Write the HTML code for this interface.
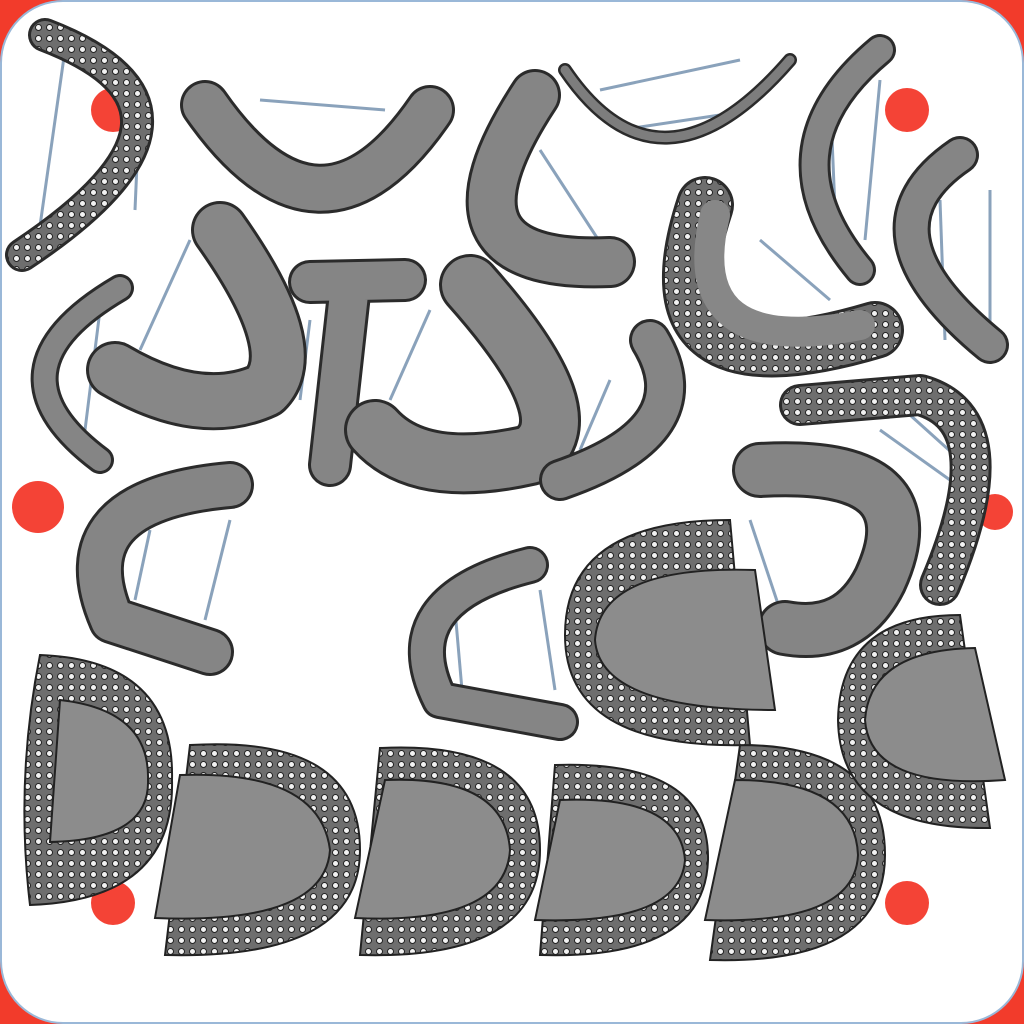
<!DOCTYPE html>
<html><head><meta charset="utf-8"><style>
html,body{margin:0;padding:0;background:#fff;width:1024px;height:1024px;overflow:hidden}
</style></head><body>
<svg width="1024" height="1024" viewBox="0 0 1024 1024">
<defs>
<pattern id="holes" width="11" height="11" patternUnits="userSpaceOnUse">
<rect width="11" height="11" fill="#6e6e6e"/>
<circle cx="5.5" cy="5.5" r="3" fill="#f2f2f2" stroke="#222" stroke-width="1"/>
</pattern>
</defs>
<rect width="1024" height="1024" fill="#f23b2b"/>
<rect x="1" y="1" width="1022" height="1022" rx="62" fill="#fff" stroke="#9ab8d8" stroke-width="2"/>
<g fill="#f44336">
<circle cx="113" cy="110" r="22"/><circle cx="907" cy="110" r="22"/>
<circle cx="38" cy="507" r="26"/><circle cx="113" cy="903" r="22"/>
<circle cx="907" cy="903" r="22"/><circle cx="995" cy="512" r="18"/>
</g>
<g stroke="#8aa2bb" stroke-width="3">
<line x1="65" y1="50" x2="38" y2="240"/><line x1="140" y1="95" x2="135" y2="210"/>
<line x1="260" y1="100" x2="385" y2="110"/><line x1="320" y1="170" x2="380" y2="150"/>
<line x1="540" y1="150" x2="605" y2="250"/><line x1="600" y1="90" x2="740" y2="60"/>
<line x1="620" y1="130" x2="720" y2="115"/><line x1="830" y1="90" x2="835" y2="210"/>
<line x1="880" y1="80" x2="865" y2="240"/><line x1="940" y1="200" x2="945" y2="340"/>
<line x1="990" y1="190" x2="990" y2="330"/><line x1="760" y1="240" x2="830" y2="300"/>
<line x1="100" y1="310" x2="85" y2="430"/><line x1="190" y1="240" x2="140" y2="350"/>
<line x1="310" y1="320" x2="300" y2="400"/><line x1="360" y1="320" x2="345" y2="400"/>
<line x1="430" y1="310" x2="390" y2="400"/><line x1="610" y1="380" x2="580" y2="450"/>
<line x1="880" y1="430" x2="950" y2="480"/><line x1="910" y1="415" x2="960" y2="460"/>
<line x1="750" y1="520" x2="780" y2="610"/><line x1="150" y1="530" x2="135" y2="600"/>
<line x1="230" y1="520" x2="205" y2="620"/><line x1="455" y1="610" x2="462" y2="690"/>
<line x1="540" y1="590" x2="555" y2="690"/>
</g>
<g fill="none" stroke-linecap="round" stroke-linejoin="round">
<g stroke="#2b2b2b" stroke-width="0">
</g>
<g id="arcs">
<path d="M45,35 Q240,110 22,255" stroke="#2b2b2b" stroke-width="34"/>
<path d="M45,35 Q240,110 22,255" stroke="url(#holes)" stroke-width="28"/>
<path d="M205,105 Q320,270 430,110" stroke="#2b2b2b" stroke-width="50"/>
<path d="M205,105 Q320,270 430,110" stroke="#858585" stroke-width="44"/>
<path d="M535,95 Q420,270 610,262" stroke="#2b2b2b" stroke-width="52"/>
<path d="M535,95 Q420,270 610,262" stroke="#858585" stroke-width="46"/>
<path d="M565,70 Q660,210 790,60" stroke="#2b2b2b" stroke-width="14"/>
<path d="M565,70 Q660,210 790,60" stroke="#7d7d7d" stroke-width="9"/>
<path d="M880,50 Q760,150 860,270" stroke="#2b2b2b" stroke-width="32"/>
<path d="M880,50 Q760,150 860,270" stroke="#858585" stroke-width="26"/>
<path d="M960,155 Q850,230 990,345" stroke="#2b2b2b" stroke-width="38"/>
<path d="M960,155 Q850,230 990,345" stroke="#858585" stroke-width="32"/>
<path d="M705,205 Q640,400 875,330" stroke="#2b2b2b" stroke-width="58"/>
<path d="M705,205 Q640,400 875,330" stroke="url(#holes)" stroke-width="52"/>
<path d="M715,215 Q680,360 860,325" stroke="#878787" stroke-width="30"/>
<path d="M120,288 Q-20,370 100,460" stroke="#2b2b2b" stroke-width="28"/>
<path d="M120,288 Q-20,370 100,460" stroke="#858585" stroke-width="22"/>
<path d="M220,230 Q305,350 265,390 Q200,420 115,370" stroke="#2b2b2b" stroke-width="58"/>
<path d="M220,230 Q305,350 265,390 Q200,420 115,370" stroke="#878787" stroke-width="52"/>
<path d="M310,282 L405,280 M350,285 L330,465" stroke="#2b2b2b" stroke-width="44"/>
<path d="M310,282 L405,280 M350,285 L330,465" stroke="#858585" stroke-width="38"/>
<path d="M470,285 Q590,420 530,455 Q420,480 375,430" stroke="#2b2b2b" stroke-width="62"/>
<path d="M470,285 Q590,420 530,455 Q420,480 375,430" stroke="#878787" stroke-width="56"/>
<path d="M650,340 Q705,430 560,480" stroke="#2b2b2b" stroke-width="42"/>
<path d="M650,340 Q705,430 560,480" stroke="#858585" stroke-width="36"/>
<path d="M800,405 L920,395 Q1010,420 940,585" stroke="#2b2b2b" stroke-width="42"/>
<path d="M800,405 L920,395 Q1010,420 940,585" stroke="url(#holes)" stroke-width="36"/>
<path d="M760,470 Q935,460 880,580 Q850,640 785,628" stroke="#2b2b2b" stroke-width="56"/>
<path d="M760,470 Q935,460 880,580 Q850,640 785,628" stroke="#858585" stroke-width="50"/>
<path d="M230,485 Q60,500 112,620 L210,652" stroke="#2b2b2b" stroke-width="48"/>
<path d="M230,485 Q60,500 112,620 L210,652" stroke="#858585" stroke-width="42"/>
<path d="M530,565 Q390,600 440,700 L560,722" stroke="#2b2b2b" stroke-width="38"/>
<path d="M530,565 Q390,600 440,700 L560,722" stroke="#858585" stroke-width="32"/>
</g>
</g>
<g stroke="#222" stroke-width="2">
<g><path d="M40,655 Q175,660 172,780 Q175,900 30,905 Q15,780 40,655Z" fill="url(#holes)"/><path d="M60,700 Q150,710 148,780 Q150,840 50,842Z" fill="#8c8c8c"/></g>
<g><path d="M190,745 Q360,735 360,850 Q360,960 165,955 Z" fill="url(#holes)"/><path d="M180,775 Q320,770 330,850 Q325,925 155,918 Z" fill="#8c8c8c"/></g>
<g><path d="M380,748 Q540,740 540,850 Q540,960 360,955 Z" fill="url(#holes)"/><path d="M385,780 Q505,775 510,850 Q505,925 355,918 Z" fill="#8c8c8c"/></g>
<g><path d="M555,765 Q710,760 708,860 Q705,960 540,955 Z" fill="url(#holes)"/><path d="M560,800 Q680,795 685,860 Q680,925 535,920 Z" fill="#8c8c8c"/></g>
<g><path d="M740,745 Q885,745 885,855 Q885,965 710,960 Z" fill="url(#holes)"/><path d="M735,780 Q855,780 858,855 Q855,925 705,920 Z" fill="#8c8c8c"/></g>
<g><path d="M960,615 Q840,615 838,720 Q840,830 990,828 Z" fill="url(#holes)"/><path d="M975,648 Q870,650 865,720 Q870,790 1005,780 Z" fill="#8c8c8c"/></g>
<g><path d="M730,520 Q565,520 565,635 Q565,750 750,745 Z" fill="url(#holes)"/><path d="M755,570 Q600,565 595,640 Q600,710 775,710 Z" fill="#8c8c8c"/></g>
</g>
</svg>
</body></html>
